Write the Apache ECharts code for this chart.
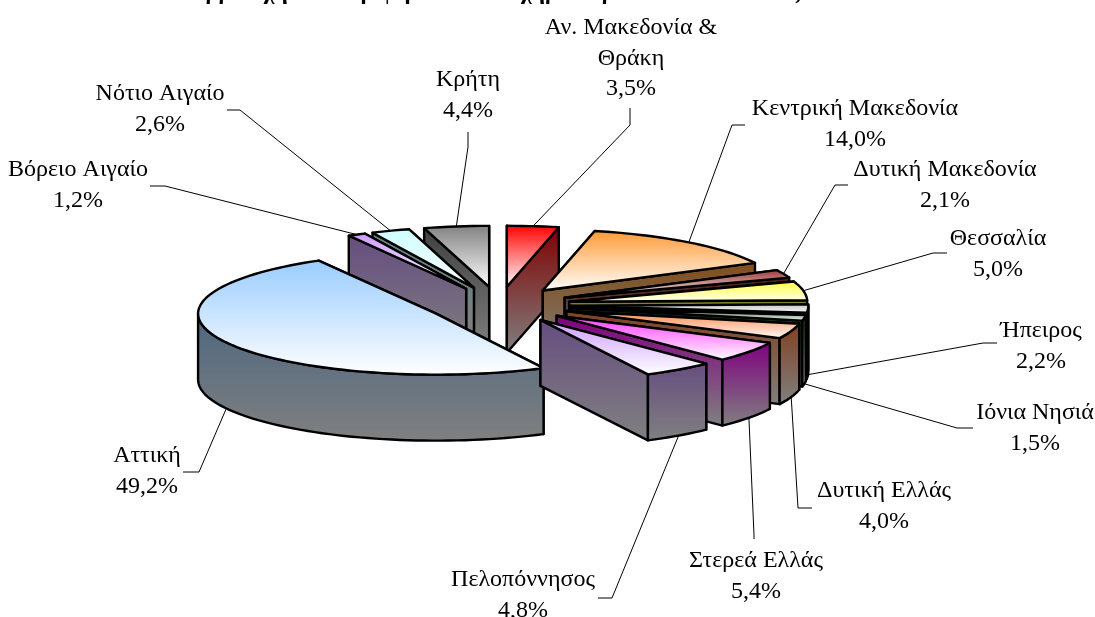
<!DOCTYPE html>
<html>
<head>
<meta charset="utf-8">
<style>
  html, body { margin: 0; padding: 0; background: #fff; }
  #chart { width: 1095px; height: 617px; }
</style>
<script src="https://cdn.jsdelivr.net/npm/echarts@6/dist/echarts.min.js"></script>
</head>
<body>
<div id="chart"></div>
<script>
var chartTitle = 'Συμμετοχή των περιφερειών στο σχηματισμό του ΑΕΠ το έτος 1999';

// clockwise from 12 o'clock
var regions = ['Αν. Μακεδονία &\nΘράκη', 'Κεντρική Μακεδονία', 'Δυτική Μακεδονία', 'Θεσσαλία', 'Ήπειρος',
  'Ιόνια Νησιά', 'Δυτική Ελλάς', 'Στερεά Ελλάς', 'Πελοπόννησος', 'Αττική', 'Βόρειο Αιγαίο', 'Νότιο Αιγαίο', 'Κρήτη'];
var shares = [3.5, 14.0, 2.1, 5.0, 2.2, 1.5, 4.0, 5.4, 4.8, 49.2, 1.2, 2.6, 4.4];
var topColors = ['#ff0000', '#ff9933', '#993333', '#ffff33', '#c0c0c0', '#1f5f1f', '#ff8040', '#ff33ff', '#cc99ff',
  '#99ccff', '#cc99ff', '#ccffff', '#808080'];
var wallColors = ['#800000', '#804d1a', '#4d1a1a', '#808019', '#606060', '#103010', '#804020', '#800080', '#664d80',
  '#4d6680', '#664d80', '#668080', '#404040'];

// label placement: centre x, first line y
var labelX = [631, 855, 945, 998, 1041, 1035, 884, 756, 523, 147, 78, 160, 468];
var labelY = [28, 109, 170, 239, 331, 413, 491, 561, 580, 456, 170, 94, 80];
// leader line, the part next to the label
var leaderHead = [
  [[630, 108], [630, 125]], [[745, 125], [732, 125]], [[848, 185], [835, 185]], [[947, 253], [933, 253]],
  [[997, 343], [983, 343]], [[973, 428], [957, 428]], [[812, 508], [798, 508]], [[754, 539], [754, 535]],
  [[598, 598], [612, 598]], [[183, 472], [199, 472]], [[150, 186], [165, 186]], [[227, 110], [240, 110]],
  [[468, 132], [468, 147]]
];

var CX = 499, CY = 305, RX = 238, RY = 61, DEPTH = 66, EXPLODE = 0.3;
var LINE_GAP = 30.5;
var FONT = '24px "Liberation Serif", "Times New Roman", serif';

var total = 0;
for (var i = 0; i < shares.length; i++) total += shares[i];

var slices = [];
var acc = 0;
for (var i = 0; i < shares.length; i++) {
  var a0 = acc / total * 360;
  acc += shares[i];
  var a1 = acc / total * 360;
  var mid = (a0 + a1) / 2;
  var rad = mid * Math.PI / 180;
  slices.push({
    index: i, a0: a0, a1: a1, mid: mid,
    cx: CX + EXPLODE * RX * Math.sin(rad),
    cy: CY - EXPLODE * RY * Math.cos(rad),
    depthKey: Math.cos(rad)
  });
}

// back slices first
var drawOrder = slices.slice().sort(function (a, b) { return b.depthKey - a.depthKey; });

function rimPoint(s, deg, dy) {
  var r = deg * Math.PI / 180;
  return [s.cx + RX * Math.sin(r), s.cy - RY * Math.cos(r) + (dy || 0)];
}

function arcPoints(s, from, to, dy) {
  var pts = [];
  var n = Math.max(2, Math.ceil((to - from) / 2));
  for (var k = 0; k <= n; k++) {
    pts.push(rimPoint(s, from + (to - from) * k / n, dy));
  }
  return pts;
}

function gradient(from, to) {
  return { type: 'linear', x: 0, y: 0, x2: 0, y2: 1, colorStops: [{ offset: 0, color: from }, { offset: 1, color: to }] };
}

function face(points, fill) {
  return {
    type: 'polygon',
    shape: { points: points },
    style: { fill: fill, stroke: '#000', lineWidth: 2.4, lineJoin: 'round' },
    silent: true
  };
}

function radialWall(s, deg) {
  var p = rimPoint(s, deg);
  return [[s.cx, s.cy], p, [p[0], p[1] + DEPTH], [s.cx, s.cy + DEPTH]];
}

function renderSlice(params) {
  var s = drawOrder[params.dataIndex];
  var wall = gradient(wallColors[s.index], '#808080');
  var children = [];

  var walls = [radialWall(s, s.a0), radialWall(s, s.a1)];
  if (rimPoint(s, s.a0)[1] > rimPoint(s, s.a1)[1]) walls.reverse();
  children.push(face(walls[0], wall));
  children.push(face(walls[1], wall));

  // only the part of the rim that faces the viewer
  var from = Math.max(s.a0, 90), to = Math.min(s.a1, 270);
  if (to > from) {
    children.push(face(arcPoints(s, from, to, 0).concat(arcPoints(s, from, to, DEPTH).reverse()), wall));
  }

  var top = [[s.cx, s.cy]].concat(arcPoints(s, s.a0, s.a1, 0));
  children.push(face(top, gradient(topColors[s.index], '#ffffff')));
  return { type: 'group', children: children };
}

function renderLabel(params) {
  var s = slices[params.dataIndex];
  var i = s.index;
  var dy = s.depthKey < 0 ? DEPTH : 0;
  var children = [{
    type: 'polyline',
    shape: { points: leaderHead[i].concat([rimPoint(s, s.mid, dy)]) },
    style: { fill: null, stroke: '#000', lineWidth: 1 },
    silent: true
  }];
  var lines = regions[i].split('\n');
  lines.push(shares[i].toFixed(1).replace('.', ',') + '%');
  for (var k = 0; k < lines.length; k++) {
    children.push({
      type: 'text',
      style: {
        text: lines[k], x: labelX[i], y: labelY[i] + k * LINE_GAP,
        align: 'center', verticalAlign: 'middle', font: FONT, fill: '#000'
      },
      silent: true
    });
  }
  return { type: 'group', children: children };
}

var chart = echarts.init(document.getElementById('chart'), null, { renderer: 'canvas' });
chart.setOption({
  animation: false,
  backgroundColor: '#fff',
  title: {
    text: chartTitle,
    left: 510,
    top: -24,
    textAlign: 'center',
    textStyle: { fontFamily: '"Liberation Serif", serif', fontWeight: 'bold', fontSize: 23.3, color: '#000' }
  },
  series: [
    { type: 'custom', coordinateSystem: 'none', silent: true, renderItem: renderLabel, data: shares, z: 1 },
    { type: 'custom', coordinateSystem: 'none', silent: true, renderItem: renderSlice, data: shares, z: 2 }
  ]
});
</script>
</body>
</html>
